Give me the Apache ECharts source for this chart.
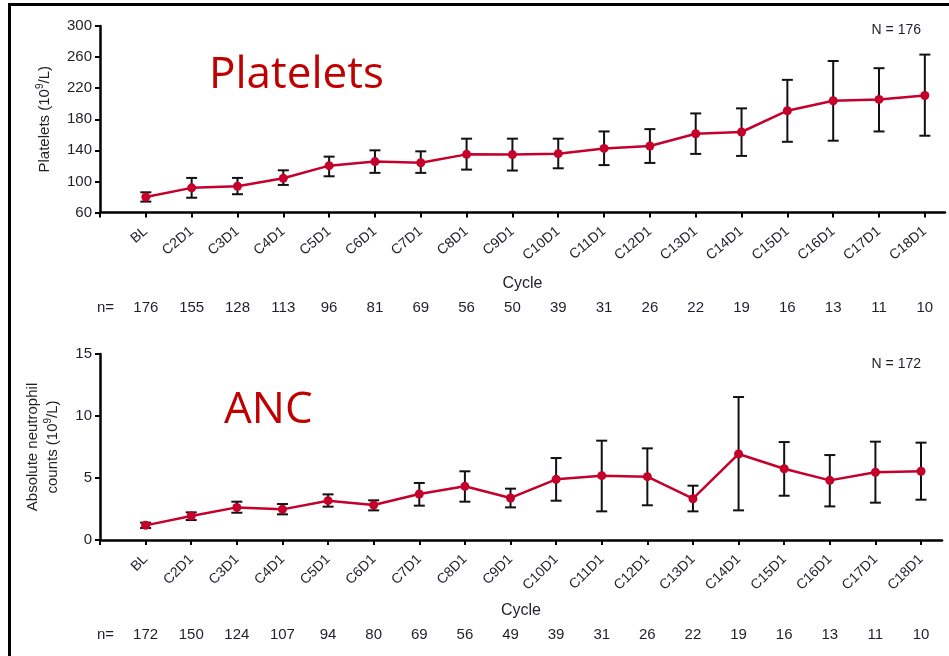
<!DOCTYPE html>
<html>
<head>
<meta charset="utf-8">
<script src="https://cdn.jsdelivr.net/npm/echarts@6/dist/echarts.min.js"></script>
<style>html,body{margin:0;padding:0;background:#fff;}#c{width:949px;height:656px;}</style>
</head>
<body>
<div id="c"></div>
<script>
const cycles = ['BL','C2D1','C3D1','C4D1','C5D1','C6D1','C7D1','C8D1','C9D1','C10D1','C11D1','C12D1','C13D1','C14D1','C15D1','C16D1','C17D1','C18D1'];
const plateletMean = [80, 91.7, 93.8, 104, 120.3, 125.5, 124, 134.8, 134.5, 135.7, 142.5, 145.6, 161.4, 163.6, 191, 203.8, 205.5, 210.6];
const plateletLow  = [74, 79, 83.5, 95.5, 106.6, 111, 111, 115.2, 114, 116.9, 121, 123.8, 135.4, 132.8, 151, 152.4, 164.3, 158.8];
const plateletHigh = [86, 104.5, 104.5, 114.3, 131.9, 140, 138.7, 155, 155, 155, 164.3, 167.3, 187.5, 194, 230.7, 255, 245.7, 263.2];
const ancMean = [1.18, 1.94, 2.63, 2.47, 3.17, 2.82, 3.71, 4.33, 3.39, 4.89, 5.19, 5.11, 3.33, 6.94, 5.75, 4.81, 5.46, 5.54];
const ancLow  = [0.97, 1.61, 2.2, 2.07, 2.69, 2.39, 2.77, 3.09, 2.63, 3.17, 2.31, 2.8, 2.31, 2.39, 3.57, 2.71, 3.01, 3.25];
const ancHigh = [1.4, 2.23, 3.09, 2.9, 3.68, 3.2, 4.6, 5.54, 4.14, 6.61, 8.01, 7.39, 4.38, 11.53, 7.9, 6.85, 7.93, 7.85];
const nPlatelets = [176,155,128,113,96,81,69,56,50,39,31,26,22,19,16,13,11,10];
const nANC = [172,150,124,107,94,80,69,56,49,39,31,26,22,19,16,13,11,10];
const plateletTicks = [60,100,140,180,220,260,300];
const ancTicks = [0,5,10,15];

const idx = cycles.map((c,i)=>i);
const tickVals = [-1].concat(idx);
const FONT = 'Liberation Sans, Arial, sans-serif';
const NARROW = 'Liberation Sans Narrow, Liberation Sans, Arial, sans-serif';
const RED = '#C4002B';
const TXT = '#1f1f2a';

function cycleAxis(grid, max, rotate, fs, gap) {
  return {
    type:'value', gridIndex:grid, min:-1, max:max,
    axisLine:{show:true, onZero:false, lineStyle:{color:'#000', width:2.5}},
    axisTick:{show:true, customValues:tickVals, length:5, lineStyle:{color:'#000', width:2}},
    axisLabel:{customValues:idx, formatter:v=>cycles[Math.round(v)], rotate:rotate, color:TXT, fontSize:fs, fontFamily:FONT, margin:17},
    splitLine:{show:false},
    name:'Cycle', nameLocation:'middle', nameGap:gap,
    nameTextStyle:{color:TXT, fontSize:16, fontFamily:NARROW}
  };
}
function nAxis(grid, max, arr, offset) {
  return {
    type:'value', gridIndex:grid, min:-1, max:max, position:'bottom', offset:offset,
    axisLine:{show:false}, axisTick:{show:false}, splitLine:{show:false},
    axisLabel:{customValues:idx, formatter:v=>String(arr[Math.round(v)]), color:TXT, fontSize:15, fontFamily:NARROW, margin:0}
  };
}
function valAxis(grid, min, max, ticks, name, gap) {
  return {
    type:'value', gridIndex:grid, min:min, max:max,
    axisLine:{show:true, onZero:false, lineStyle:{color:'#000', width:2.5}},
    axisTick:{show:true, customValues:ticks, length:5, lineStyle:{color:'#000', width:2}},
    axisLabel:{customValues:ticks, color:TXT, fontSize:15, fontFamily:FONT, margin:8},
    splitLine:{show:false},
    name:name, nameLocation:'middle', nameRotate:90, nameGap:gap,
    nameTextStyle:{color:TXT, fontSize:15, fontFamily:FONT, lineHeight:20,
      rich:{s:{fontSize:10, fontFamily:FONT, color:TXT, verticalAlign:'top', lineHeight:20}}}
  };
}
function errSeries(xi, yi, lo, hi) {
  return {
    type:'custom', xAxisIndex:xi, yAxisIndex:yi, z:2,
    data: idx.map(i=>[i, lo[i], hi[i]]),
    encode:{x:0, y:[1,2]},
    renderItem:function(params, api){
      const x = api.value(0);
      const a = api.coord([x, api.value(1)]);
      const b = api.coord([x, api.value(2)]);
      const w = 5.5;
      const st = {stroke:'#111', lineWidth:2};
      return {type:'group', children:[
        {type:'line', shape:{x1:a[0], y1:a[1], x2:b[0], y2:b[1]}, style:st},
        {type:'line', shape:{x1:a[0]-w, y1:a[1], x2:a[0]+w, y2:a[1]}, style:st},
        {type:'line', shape:{x1:b[0]-w, y1:b[1], x2:b[0]+w, y2:b[1]}, style:st}
      ]};
    }
  };
}
function lineSeries(xi, yi, vals) {
  return {
    type:'line', xAxisIndex:xi, yAxisIndex:yi, z:3,
    data: idx.map(i=>[i, vals[i]]),
    symbol:'circle', symbolSize:9, showSymbol:true,
    lineStyle:{color:RED, width:2.5}, itemStyle:{color:RED}
  };
}

const chart = echarts.init(document.getElementById('c'));
chart.setOption({
  animation:false,
  backgroundColor:'#fff',
  grid:[
    {left:100, top:26, width:845, height:186.5},
    {left:100, top:354, width:842, height:186}
  ],
  xAxis:[
    cycleAxis(0, 17.44, 40, 14, 63),
    nAxis(0, 17.44, nPlatelets, 88),
    cycleAxis(1, 17.46, 45, 14, 63),
    nAxis(1, 17.46, nANC, 87)
  ],
  yAxis:[
    valAxis(0, 60, 300, plateletTicks, 'Platelets (10{s|9}/L)', 45),
    valAxis(1, 0, 15, ancTicks, 'Absolute neutrophil\ncounts (10{s|9}/L)', 37)
  ],
  series:[
    errSeries(0, 0, plateletLow, plateletHigh),
    lineSeries(0, 0, plateletMean),
    errSeries(2, 1, ancLow, ancHigh),
    lineSeries(2, 1, ancMean)
  ],
  graphic:[
    {type:'line', shape:{x1:9.5, y1:3, x2:9.5, y2:656}, style:{stroke:'#000', lineWidth:3}},
    {type:'line', shape:{x1:8, y1:4.5, x2:949, y2:4.5}, style:{stroke:'#000', lineWidth:3}},
    {type:'text', left:209, top:53, style:{text:'Platelets', fill:'#C00000', font:'44px "Open Sans", sans-serif'}},
    {type:'text', left:224, top:388, style:{text:'ANC', fill:'#C00000', font:'44px "Open Sans", sans-serif'}},
    {type:'text', right:28, top:23, style:{text:'N = 176', fill:TXT, font:'14px ' + FONT}},
    {type:'text', right:28, top:357, style:{text:'N = 172', fill:TXT, font:'14px ' + FONT}},
    {type:'text', left:97, top:300, style:{text:'n=', fill:TXT, font:'15px ' + NARROW}},
    {type:'text', left:97, top:627, style:{text:'n=', fill:TXT, font:'15px ' + NARROW}}
  ]
});
</script>
</body>
</html>
